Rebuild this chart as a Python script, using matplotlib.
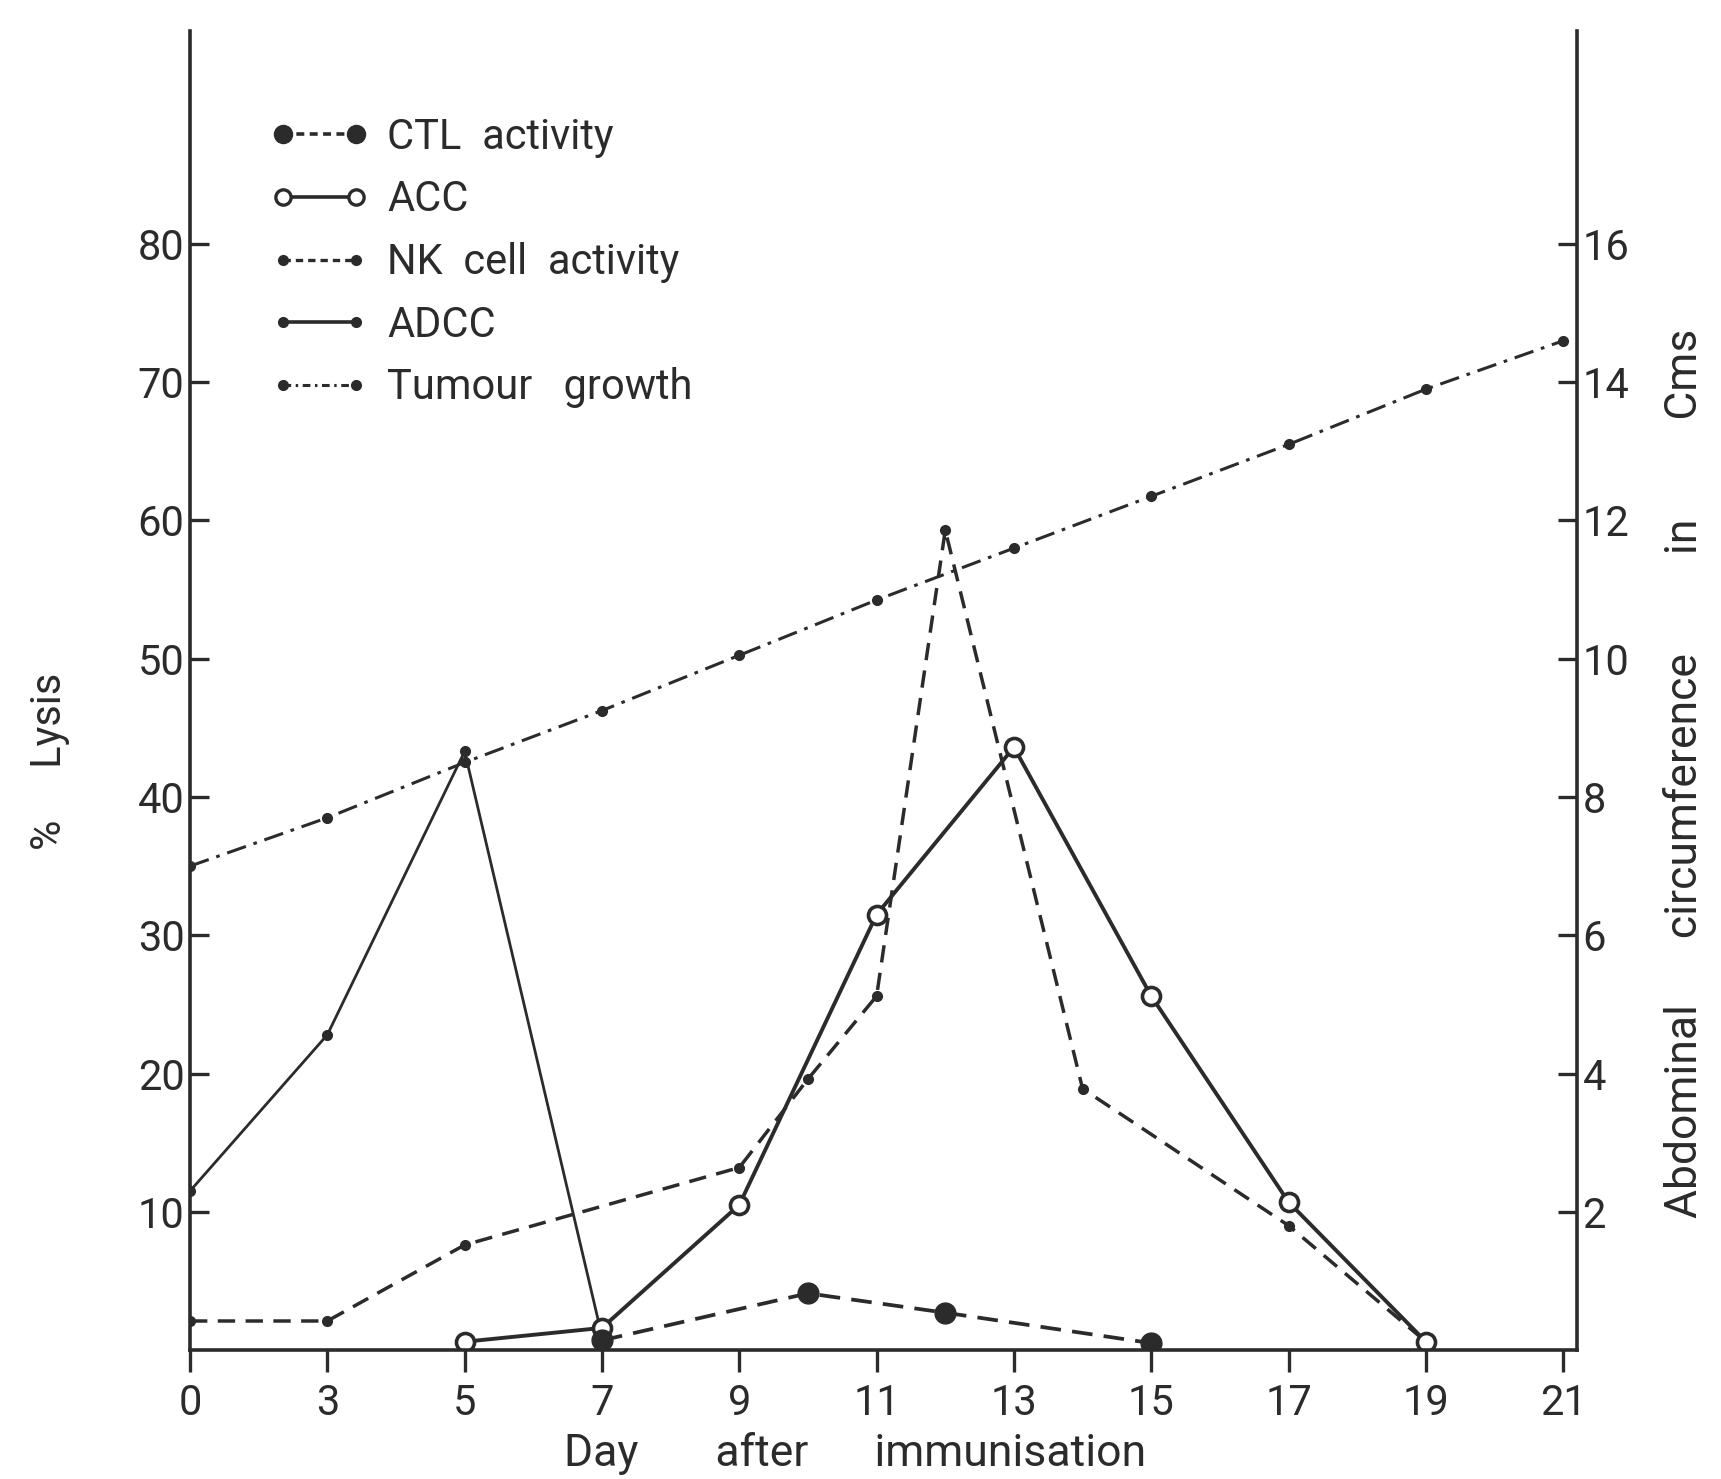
import numpy as np
import matplotlib
matplotlib.use("Agg")
import matplotlib.pyplot as plt
from matplotlib.lines import Line2D
from matplotlib import font_manager

# ---------------- data ----------------
tick_days = [0, 3, 5, 7, 9, 11, 13, 15, 17, 19, 21]
left_ticks = [10, 20, 30, 40, 50, 60, 70, 80]
right_ticks = [2, 4, 6, 8, 10, 12, 14, 16]

ctl_days = [7, 10, 12, 15]
ctl_vals = [0.7, 4.1, 2.7, 0.5]

acc_days = [5, 7, 9, 11, 13, 15, 17, 19]
acc_vals = [0.6, 1.6, 10.5, 31.5, 43.6, 25.6, 10.7, 0.6]

nk_days = [0, 3, 5, 9, 10, 11, 12, 14, 17, 19]
nk_vals = [2.1, 2.1, 7.6, 13.2, 19.6, 25.6, 59.3, 18.9, 9.0, 0.6]

adcc_days = [0, 3, 5, 7]
adcc_vals = [11.5, 22.8, 43.3, 1.0]

tumour_days = [0, 3, 5, 7, 9, 11, 13, 15, 17, 19, 21]
tumour_cm = [7.0, 7.7, 8.5, 9.25, 10.05, 10.85, 11.6, 12.35, 13.1, 13.9, 14.6]

legend_labels = ["CTL  activity", "ACC", "NK  cell  activity", "ADCC", "Tumour   growth"]

# ---------------- fonts ----------------
avail = {f.name for f in font_manager.fontManager.ttflist}
fam = [f for f in ["Roboto", "Liberation Sans", "DejaVu Sans"] if f in avail]
plt.rcParams["font.family"] = fam
FS = 30
INK = "#2b2b2b"

# ---------------- figure ----------------
fig = plt.figure(figsize=(17.21, 14.79), dpi=100)
ax = fig.add_axes([0.1104, 0.0872, 0.9163 - 0.1104, 0.979 - 0.0872])

# evenly spaced (non-linear) day axis
knots_d = [0, 3, 5, 7, 9, 11, 13, 15, 17, 19, 21, 23]
knots_i = list(range(len(knots_d)))
fwd = lambda x: np.interp(x, knots_d, knots_i)
inv = lambda x: np.interp(x, knots_i, knots_d)
ax.set_xscale("function", functions=(fwd, inv))

ax.plot(adcc_days, adcc_vals, "-", color=INK, lw=2.0, marker="o", ms=7, mfc=INK, mec=INK)
ax.plot(nk_days, nk_vals, color=INK, lw=2.5, ls=(0, (5, 3)), marker="o", ms=7, mfc=INK, mec=INK)
ax.plot(acc_days, acc_vals, "-", color=INK, lw=2.8, marker="o", ms=13, mfc="white", mec=INK, mew=2.6)
ax.plot(ctl_days, ctl_vals, color=INK, lw=2.7, ls=(0, (5.5, 3)), marker="o", ms=15, mfc=INK, mec=INK)

ax2 = ax.twinx()
ax2.set_xscale("function", functions=(fwd, inv))
ax2.plot(tumour_days, tumour_cm, color=INK, lw=2.2, ls=(0, (6.5, 2.6, 1.2, 2.6)), marker="o", ms=7, mfc=INK, mec=INK)

ymax = 95.4
ax.set_ylim(0, ymax)
ax2.set_ylim(0, ymax / 5)
ax.set_xlim(0, 21.2)

ax.set_xticks(tick_days)
ax.set_xticklabels([str(d) for d in tick_days])
ax.set_yticks(left_ticks)
ax.set_yticklabels([str(v) for v in left_ticks])
ax2.set_yticks(right_ticks)
ax2.set_yticklabels([str(v) for v in right_ticks])
ax.minorticks_off()
ax2.minorticks_off()

for a in (ax, ax2):
    a.spines["top"].set_visible(False)
    for s in a.spines.values():
        s.set_linewidth(2.6)
        s.set_color(INK)
ax.spines["right"].set_visible(False)
ax2.spines["left"].set_visible(False)
ax2.spines["bottom"].set_visible(False)

ax.tick_params(axis="x", direction="out", length=16, width=2.4, pad=8, labelsize=FS, colors=INK)
ax.tick_params(axis="y", direction="in", length=14, width=2.4, pad=4, labelsize=FS, colors=INK)
ax2.tick_params(axis="y", direction="in", length=14, width=2.4, pad=4, labelsize=FS, colors=INK)

# axis labels
fig.text(0.497, 0.003, "Day       after      immunisation", ha="center", va="bottom", fontsize=32, color=INK)
fig.text(0.029, 0.485, "%     Lysis", ha="center", va="center", rotation=90, fontsize=FS, color=INK)
fig.text(0.979, 0.477, "Abdominal      circumference         in         Cms", ha="center", va="center",
         rotation=90, fontsize=32, color=INK)

# legend
handles = [
    Line2D([], [], color=INK, lw=2.6, ls=(0, (2.2, 1.5)), marker="o", ms=13, mfc=INK, mec=INK),
    Line2D([], [], color=INK, lw=2.6, ls="-", marker="o", ms=11, mfc="white", mec=INK, mew=2.4),
    Line2D([], [], color=INK, lw=2.4, ls=(0, (2.2, 1.5)), marker="o", ms=7, mfc=INK, mec=INK),
    Line2D([], [], color=INK, lw=2.6, ls="-", marker="o", ms=7, mfc=INK, mec=INK),
    Line2D([], [], color=INK, lw=2.2, ls=(0, (2.5, 1.5, 0.8, 1.5)), marker="o", ms=7, mfc=INK, mec=INK),
]
leg = ax.legend(handles, legend_labels, loc="upper left", bbox_to_anchor=(0.058, 0.935),
                frameon=False, fontsize=FS, handlelength=2.35, handletextpad=0.45, numpoints=2,
                labelspacing=0.52, borderpad=0, borderaxespad=0, labelcolor=INK)

fig.savefig("out.png", dpi=100)
